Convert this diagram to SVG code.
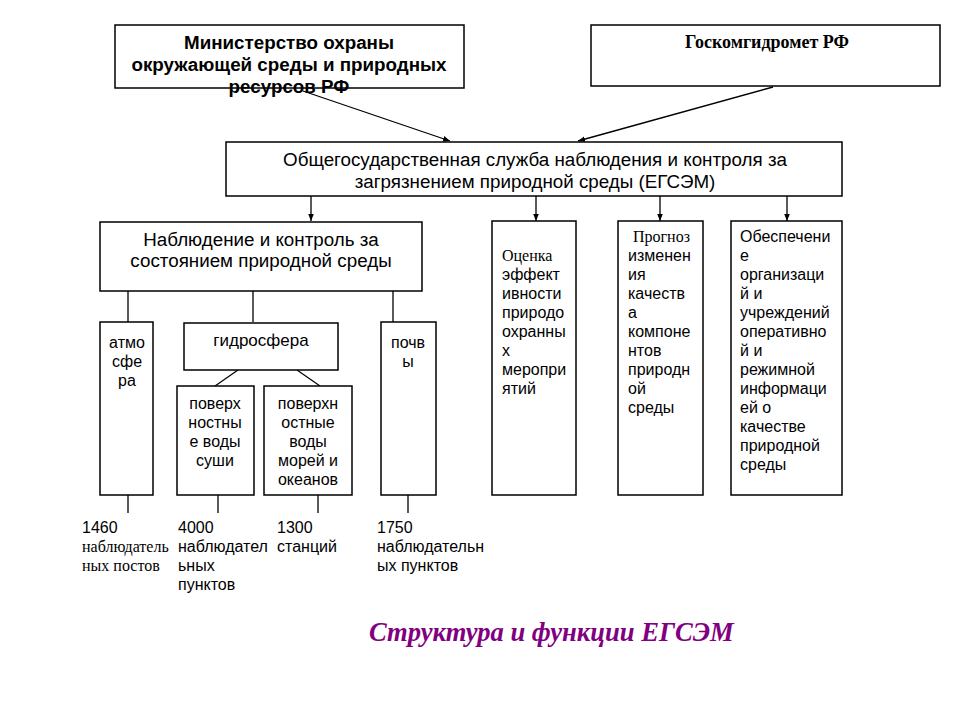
<svg xmlns="http://www.w3.org/2000/svg" width="960" height="720" viewBox="0 0 960 720">
<style>
.box{fill:#fff;stroke:#000;stroke-width:1.5}
.ln{stroke:#000;stroke-width:1.3;fill:none}
.a{font-family:"Liberation Sans",Arial,sans-serif;font-size:16px;fill:#000}
.t{font-family:"Liberation Serif","Times New Roman",serif;font-size:16px;fill:#000}
.c{text-anchor:middle}
.b{font-weight:bold}
.big{font-size:18.8px}
</style>
<defs>
<marker id="ar" viewBox="0 0 10 10" refX="10" refY="5" markerWidth="7" markerHeight="7" orient="auto" markerUnits="userSpaceOnUse">
<path d="M0,1 L10,5 L0,9 z" fill="#000"/>
</marker>
</defs>
<rect width="960" height="720" fill="#fff"/>
<g id="connectors">
<line class="ln" x1="303" y1="91" x2="450" y2="141" marker-end="url(#ar)"/>
<line class="ln" x1="773" y1="87" x2="578" y2="141" marker-end="url(#ar)"/>
<line class="ln" x1="311" y1="196" x2="311" y2="221" marker-end="url(#ar)"/>
<line class="ln" x1="536" y1="196" x2="536" y2="221" marker-end="url(#ar)"/>
<line class="ln" x1="660" y1="196" x2="660" y2="221" marker-end="url(#ar)"/>
<line class="ln" x1="787" y1="196" x2="787" y2="221" marker-end="url(#ar)"/>
<line class="ln" x1="128" y1="291" x2="128" y2="322"/>
<line class="ln" x1="253" y1="291" x2="253" y2="322"/>
<line class="ln" x1="393" y1="291" x2="393" y2="322"/>
<line class="ln" x1="238" y1="370" x2="215" y2="386"/>
<line class="ln" x1="297" y1="370" x2="320" y2="386"/>
<line class="ln" x1="128" y1="495" x2="128" y2="513"/>
<line class="ln" x1="218" y1="495" x2="218" y2="513"/>
<line class="ln" x1="318" y1="495" x2="318" y2="513"/>
<line class="ln" x1="408" y1="495" x2="408" y2="513"/>
</g>
<g id="ministry">
<rect class="box" x="115" y="25" width="349" height="63"/>
<text class="a b c big" x="289" y="49">Министерство охраны</text>
<text class="a b c big" x="289" y="71">окружающей среды и природных</text>
<text class="a b c big" x="289" y="93">ресурсов РФ</text>
</g>
<g id="goskom">
<rect class="box" x="591" y="25" width="349" height="61"/>
<text class="t b c" x="767" y="48" style="font-size:18px">Госкомгидромет РФ</text>
</g>
<g id="egsem">
<rect class="box" x="226" y="142" width="616" height="54"/>
<text class="a c big" x="535" y="166">Общегосударственная служба наблюдения и контроля за</text>
<text class="a c big" x="535" y="188">загрязнением природной среды (ЕГСЭМ)</text>
</g>
<g id="observation">
<rect class="box" x="100" y="222" width="322" height="69"/>
<text class="a c big" x="261" y="246">Наблюдение и контроль за</text>
<text class="a c big" x="261" y="267">состоянием природной среды</text>
</g>
<g id="assessment">
<rect class="box" x="492" y="221" width="84" height="274"/>
<text class="t" x="502" y="261">Оценка</text>
<text class="a" x="502" y="280">эффект</text>
<text class="a" x="502" y="299">ивности</text>
<text class="a" x="502" y="318">природо</text>
<text class="a" x="502" y="337">охранны</text>
<text class="a" x="502" y="356">х</text>
<text class="a" x="502" y="375">меропри</text>
<text class="a" x="502" y="394">ятий</text>
</g>
<g id="forecast">
<rect class="box" x="618" y="221" width="85" height="274"/>
<text class="t" x="633" y="242">Прогноз</text>
<text class="a" x="628" y="261">изменен</text>
<text class="a" x="628" y="280">ия</text>
<text class="a" x="628" y="299">качеств</text>
<text class="a" x="628" y="318">а</text>
<text class="a" x="628" y="337">компоне</text>
<text class="a" x="628" y="356">нтов</text>
<text class="a" x="628" y="375">природн</text>
<text class="a" x="628" y="394">ой</text>
<text class="a" x="628" y="413">среды</text>
</g>
<g id="provision">
<rect class="box" x="731" y="221" width="111" height="274"/>
<text class="a" x="740" y="242">Обеспечени</text>
<text class="a" x="740" y="261">е</text>
<text class="a" x="740" y="280">организаци</text>
<text class="a" x="740" y="299">й и</text>
<text class="a" x="740" y="318">учреждений</text>
<text class="a" x="740" y="337">оперативно</text>
<text class="a" x="740" y="356">й и</text>
<text class="a" x="740" y="375">режимной</text>
<text class="a" x="740" y="394">информаци</text>
<text class="a" x="740" y="413">ей о</text>
<text class="a" x="740" y="432">качестве</text>
<text class="a" x="740" y="451">природной</text>
<text class="a" x="740" y="470">среды</text>
</g>
<g id="atmosphere">
<rect class="box" x="100" y="322" width="53" height="173"/>
<text class="a c" x="127" y="348">атмо</text>
<text class="a c" x="127" y="367">сфе</text>
<text class="a c" x="127" y="386">ра</text>
</g>
<g id="hydrosphere">
<rect class="box" x="184" y="323" width="154" height="47"/>
<text class="a c" x="261" y="346" style="font-size:17px">гидросфера</text>
</g>
<g id="land-water">
<rect class="box" x="177" y="386" width="77" height="109"/>
<text class="a c" x="215" y="409">поверх</text>
<text class="a c" x="215" y="428">ностны</text>
<text class="a c" x="215" y="447">е воды</text>
<text class="a c" x="215" y="466">суши</text>
</g>
<g id="sea-water">
<rect class="box" x="264" y="386" width="88" height="109"/>
<text class="a c" x="308" y="409">поверхн</text>
<text class="a c" x="308" y="428">остные</text>
<text class="a c" x="308" y="447">воды</text>
<text class="a c" x="308" y="466">морей и</text>
<text class="a c" x="308" y="485">океанов</text>
</g>
<g id="soil">
<rect class="box" x="381" y="322" width="55" height="173"/>
<text class="a c" x="408" y="348">почв</text>
<text class="a c" x="408" y="367">ы</text>
</g>
<g id="counts">
<text class="a" x="82" y="533">1460</text>
<text class="t" x="82" y="552">наблюдатель</text>
<text class="t" x="82" y="571">ных постов</text>
<text class="a" x="178" y="533">4000</text>
<text class="a" x="178" y="552">наблюдател</text>
<text class="a" x="178" y="571">ьных</text>
<text class="a" x="178" y="590">пунктов</text>
<text class="a" x="277" y="533">1300</text>
<text class="a" x="277" y="552">станций</text>
<text class="a" x="377" y="533">1750</text>
<text class="a" x="377" y="552">наблюдательн</text>
<text class="a" x="377" y="571">ых пунктов</text>
</g>
<text x="369" y="641" style="font-family:'Liberation Serif','Times New Roman',serif;font-size:26.6px;font-weight:bold;font-style:italic;fill:#800080">Структура и функции ЕГСЭМ</text>
</svg>
